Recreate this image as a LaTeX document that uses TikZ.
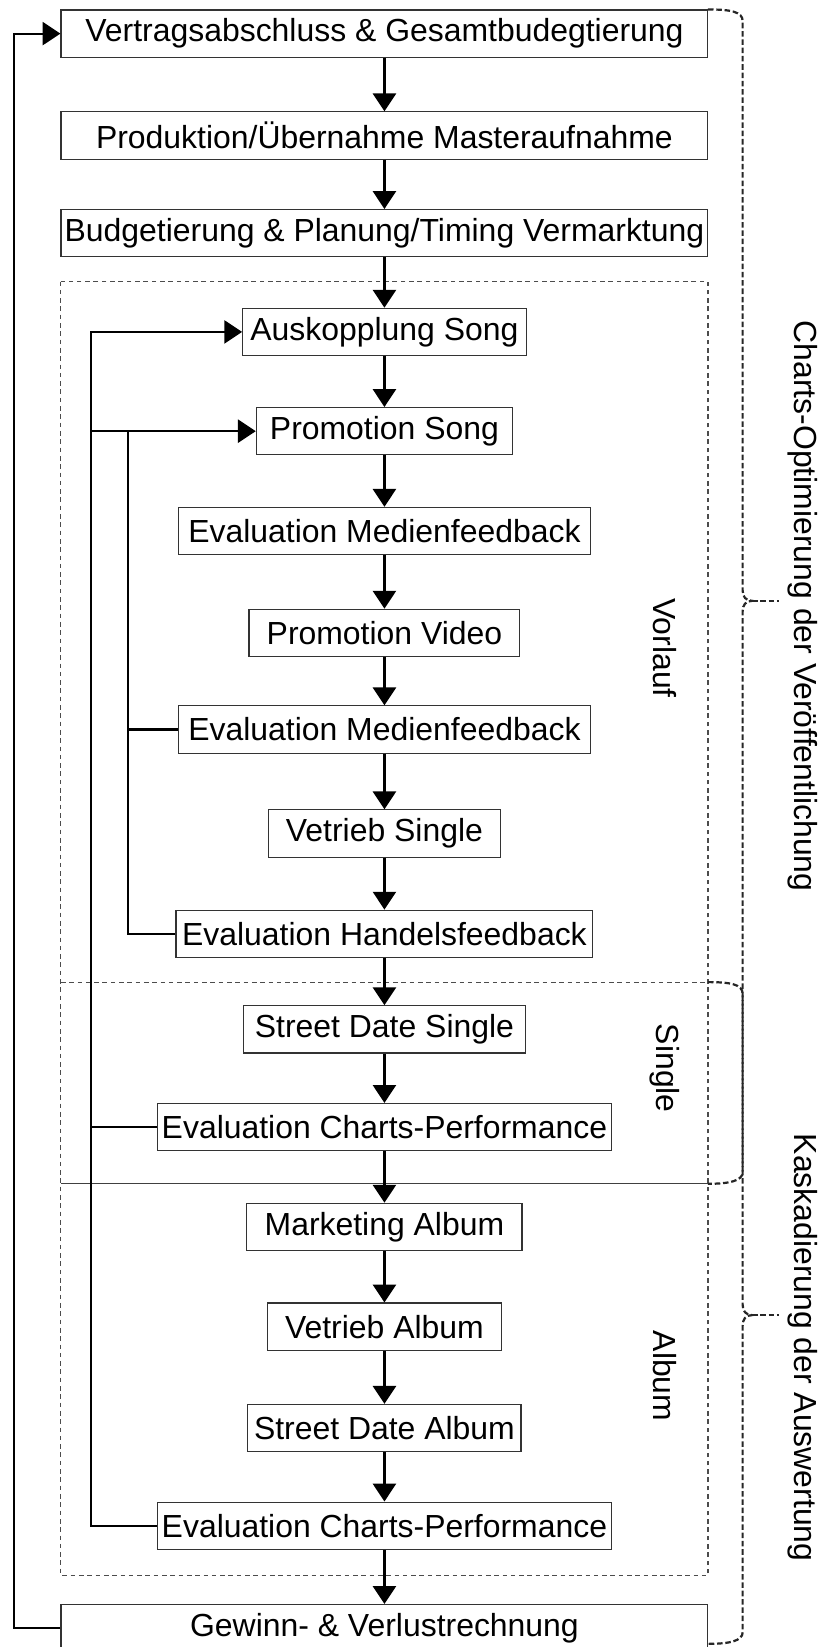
\documentclass[tikz,border=0pt]{standalone}
\usepackage{fontspec}
\setmainfont{Liberation Sans}
\usetikzlibrary{arrows.meta}
\begin{document}
\begin{tikzpicture}[x=0.02cm,y=-0.02cm,
  box/.style={draw=black!80, line width=0.6pt, minimum height=0.9cm, inner sep=0pt, font=\fontsize{17.3}{20}\selectfont, fill=white},
  flow/.style={line width=1.2pt, -{Triangle[width=0.44cm,length=0.34cm]}},
  fb/.style={line width=1.2pt},
  region/.style={draw=black!70, line width=0.6pt, dash pattern=on 2.5pt off 2pt},
  bracedraw/.style={draw=black!85, line width=1.2pt, dash pattern=on 3pt off 1.5pt},
  lab/.style={font=\fontsize{17.3}{20}\selectfont, rotate=-90}
]
\useasboundingbox (0,0) rectangle (785,1568);

% regions
\draw[region] (58,268) rectangle (674,1500);
\draw[region] (58,935) -- (674,935);
\draw[draw=black!75, line width=0.6pt] (58,1127) -- (674,1127);

% boxes
\node[box, minimum width=12.32cm] (b1) at (366,32) {Vertragsabschluss \& Gesamtbudegtierung};
\node[box, minimum width=12.32cm] (b2) at (366,129) {Produktion/Übernahme Masteraufnahme};
\node[box, minimum width=12.32cm] (b3) at (366,222) {Budgetierung \& Planung/Timing Vermarktung};
\node[box, minimum width=5.4cm] (ausk) at (366,316) {Auskopplung Song};
\node[box, minimum width=4.88cm] (ps) at (366,410.5) {Promotion Song};
\node[box, minimum width=7.84cm] (emf1) at (366,505.5) {Evaluation Medienfeedback};
\node[box, minimum width=5.16cm] (pv) at (366,602.5) {Promotion Video};
\node[box, minimum width=7.84cm] (emf2) at (366,694.5) {Evaluation Medienfeedback};
\node[box, minimum width=4.42cm] (vs) at (366,793.5) {Vetrieb Single};
\node[box, minimum width=7.94cm] (ehf) at (366,889) {Evaluation Handelsfeedback};
\node[box, minimum width=5.36cm] (sds) at (366,980) {Street Date Single};
\node[box, minimum width=8.64cm] (ecp1) at (366,1073) {Evaluation Charts-Performance};
\node[box, minimum width=5.24cm] (ma) at (366,1168) {Marketing Album};
\node[box, minimum width=4.46cm] (va) at (366,1263) {Vetrieb Album};
\node[box, minimum width=5.2cm] (sda) at (366,1359.5) {Street Date Album};
\node[box, minimum width=8.64cm] (ecp2) at (366,1452.5) {Evaluation Charts-Performance};
\node[box, minimum width=12.32cm] (gv) at (366,1550) {Gewinn- \& Verlustrechnung};

% main flow
\foreach \a/\b in {b1/b2,b2/b3,b3/ausk,ausk/ps,ps/emf1,emf1/pv,pv/emf2,emf2/vs,vs/ehf,ehf/sds,sds/ecp1,ecp1/ma,ma/va,va/sda,sda/ecp2,ecp2/gv}
  \draw[flow] (\a.south) -- (\b.north);

% feedback lines
\coordinate (L) at (13,0);
\coordinate (O) at (87,0);
\coordinate (I) at (122,0);
\draw[flow] (gv.west) -- (gv.west -| L) |- (b1.west);
\draw[flow] (ecp2.west) -- (ecp2.west -| O) |- (ausk.west);
\draw[fb] (ecp1.west) -- (ecp1.west -| O);
\draw[flow] (ps.west -| O) -- (ps.west);
\draw[fb] (ehf.west) -- (ehf.west -| I) -- (ps.west -| I);
\draw[fb] (emf2.west) -- (emf2.west -| I);

% braces
\draw[bracedraw] (674,9) .. controls (695,9) and (707,11) .. (707,20) -- (707,562)
  .. controls (707,568) and (710,572) .. (716,572)
  .. controls (710,572) and (707,576) .. (707,582) -- (707,1116)
  .. controls (707,1124) and (695,1127) .. (674,1127);
\draw[bracedraw] (716,572) -- (742,572);
\draw[bracedraw] (674,935) .. controls (695,935) and (707,937) .. (707,946) -- (707,1242)
  .. controls (707,1248) and (710,1252) .. (716,1252)
  .. controls (710,1252) and (707,1256) .. (707,1262) -- (707,1554)
  .. controls (707,1562) and (695,1565) .. (674,1565);
\draw[bracedraw] (716,1252) -- (742,1252);

% labels
\node[lab] (vorlauf) at (633,617) {Vorlauf};
\node[lab] (single) at (633,1017) {Single};
\node[lab] (album) at (633,1310) {Album};
\node[lab] (charts) at (764,577) {Charts-Optimierung der Veröffentlichung};
\node[lab] (kask) at (764,1283) {Kaskadierung der Auswertung};
\end{tikzpicture}
\end{document}
